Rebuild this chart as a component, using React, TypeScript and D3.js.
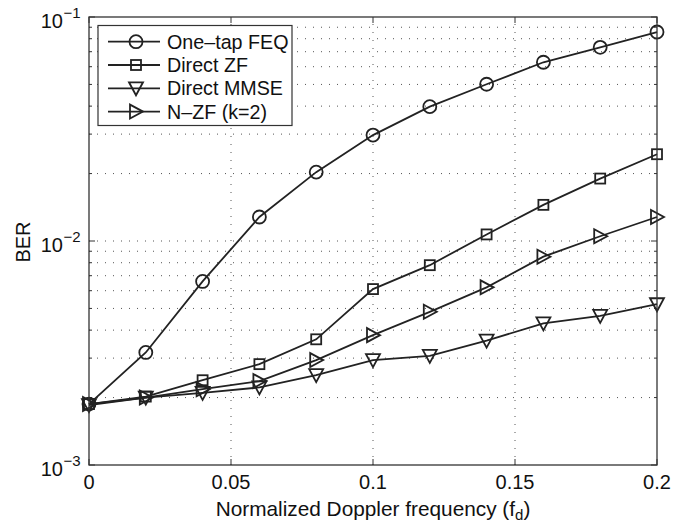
import React from 'react';
import * as d3 from 'd3';

const fd = [0, 0.02, 0.04, 0.06, 0.08, 0.1, 0.12, 0.14, 0.16, 0.18, 0.2];

const oneTapFEQ = [1.87e-3, 3.18e-3, 6.6e-3, 1.28e-2, 2.03e-2, 2.97e-2, 3.98e-2, 5.01e-2, 6.28e-2, 7.32e-2, 8.57e-2];
const directZF = [1.87e-3, 2.02e-3, 2.39e-3, 2.82e-3, 3.64e-3, 6.1e-3, 7.8e-3, 1.07e-2, 1.45e-2, 1.9e-2, 2.44e-2];
const directMMSE = [1.85e-3, 2.0e-3, 2.1e-3, 2.22e-3, 2.52e-3, 2.94e-3, 3.07e-3, 3.59e-3, 4.29e-3, 4.63e-3, 5.22e-3];
const nZF = [1.87e-3, 2.0e-3, 2.18e-3, 2.37e-3, 2.94e-3, 3.8e-3, 4.83e-3, 6.21e-3, 8.51e-3, 1.05e-2, 1.28e-2];

const seriesNames = ['One\u2013tap FEQ', 'Direct ZF', 'Direct MMSE', 'N\u2013ZF (k=2)'];
const seriesMarkers = ['circle', 'square', 'triDown', 'triRight'];
const seriesValues = [oneTapFEQ, directZF, directMMSE, nZF];

const xTicks = [0, 0.05, 0.1, 0.15, 0.2];
const xTickLabels = ['0', '0.05', '0.1', '0.15', '0.2'];
const yDecades = [1e-3, 1e-2, 1e-1];
const yExponents = ['\u22123', '\u22122', '\u22121'];

const width = 686;
const height = 524;
const margin = { left: 89, right: 29, top: 17, bottom: 59 };
const font = '"Liberation Sans", Arial, Helvetica, sans-serif';
const ink = '#222';

function Marker({ type, x, y }: { type: string; x: number; y: number }) {
	const common = { fill: 'none', stroke: ink, strokeWidth: 1.8 };
	if (type === 'circle') return <circle cx={x} cy={y} r={6.5} {...common} />;
	if (type === 'square') return <rect x={x - 5} y={y - 5} width={10} height={10} {...common} />;
	if (type === 'triDown')
		return <path d={`M${x - 7},${y - 6}L${x + 7},${y - 6}L${x},${y + 7}Z`} {...common} />;
	return <path d={`M${x - 6},${y - 7}L${x - 6},${y + 7}L${x + 7},${y}Z`} {...common} />;
}

export default function App() {
	const x = d3.scaleLinear().domain([0, 0.2]).range([margin.left, width - margin.right]);
	const y = d3.scaleLog().domain([1e-3, 1e-1]).range([height - margin.bottom, margin.top]);

	const minor: number[] = [];
	[1e-3, 1e-2].forEach(d => {
		for (let k = 2; k <= 9; k++) minor.push(d * k);
	});
	const line = d3.line<number>().x((_, i) => x(fd[i])).y(v => y(v));

	const x0 = x(0), x1 = x(0.2), y0 = y(1e-3), y1 = y(1e-1);
	const grid = { stroke: '#555', strokeWidth: 1, strokeDasharray: '1,7' };

	return (
		<svg width={width} height={height} style={{ position: 'absolute', left: 0, top: 0 }}>
			<rect width={width} height={height} fill="#fff" />
			{/* grid */}
			{xTicks.slice(1, -1).map(t => (
				<line key={`gx${t}`} x1={x(t)} x2={x(t)} y1={y0} y2={y1} {...grid} />
			))}
			{minor.concat([1e-2]).map(t => (
				<line key={`gy${t}`} x1={x0} x2={x1} y1={y(t)} y2={y(t)} {...grid} />
			))}
			{/* ticks */}
			{xTicks.map(t => (
				<g key={`tx${t}`} stroke="#333" strokeWidth={1}>
					<line x1={x(t)} x2={x(t)} y1={y0} y2={y0 - 6} />
					<line x1={x(t)} x2={x(t)} y1={y1} y2={y1 + 6} />
				</g>
			))}
			{yDecades.map(t => (
				<g key={`ty${t}`} stroke="#333" strokeWidth={1}>
					<line x1={x0} x2={x0 + 6} y1={y(t)} y2={y(t)} />
					<line x1={x1} x2={x1 - 6} y1={y(t)} y2={y(t)} />
				</g>
			))}
			{minor.map(t => (
				<g key={`tm${t}`} stroke="#333" strokeWidth={1}>
					<line x1={x0} x2={x0 + 3} y1={y(t)} y2={y(t)} />
					<line x1={x1} x2={x1 - 3} y1={y(t)} y2={y(t)} />
				</g>
			))}
			{/* series */}
			{seriesValues.map((vals, s) => (
				<g key={`s${s}`}>
					<path d={line(vals) || ''} fill="none" stroke={ink} strokeWidth={1.8} />
					{vals.map((v, i) => (
						<Marker key={i} type={seriesMarkers[s]} x={x(fd[i])} y={y(v)} />
					))}
				</g>
			))}
			{/* axes box */}
			<rect x={x0} y={y1} width={x1 - x0} height={y0 - y1} fill="none" stroke="#333" strokeWidth={1.3} />
			{/* tick labels */}
			{xTicks.map((t, i) => (
				<text key={`lx${t}`} x={x(t)} y={489} textAnchor="middle" fontFamily={font} fontSize={20} fill="#111">
					{xTickLabels[i]}
				</text>
			))}
			{yDecades.map((t, i) => (
				<text key={`ly${t}`} x={63} y={y(t) + 11} textAnchor="end" fontFamily={font} fontSize={20} fill="#111">
					10
				</text>
			))}
			{yDecades.map((t, i) => (
				<text key={`le${t}`} x={63.5} y={y(t) + 1} fontFamily={font} fontSize={15} fill="#111">
					{yExponents[i]}
				</text>
			))}
			{/* axis labels */}
			<text x={x(0.1)} y={516} textAnchor="middle" fontFamily={font} fontSize={20.8} fill="#111">
				Normalized Doppler frequency (f<tspan fontSize={15} dy={4}>d</tspan><tspan dy={-4}>)</tspan>
			</text>
			<text transform={`translate(30,${(y0 + y1) / 2 + 1}) rotate(-90)`} textAnchor="middle" fontFamily={font} fontSize={20} fill="#111">
				BER
			</text>
			{/* legend */}
			<g>
				<rect x={98} y={25.5} width={194} height={100} fill="#fff" stroke="#333" strokeWidth={1.2} />
				{seriesNames.map((name, i) => {
					const ry = 41.7 + i * 23.3;
					return (
						<g key={name}>
							<line x1={108} x2={160} y1={ry} y2={ry} stroke={ink} strokeWidth={1.8} />
							<Marker type={seriesMarkers[i]} x={136} y={ry} />
							<text x={167} y={ry + 7} fontFamily={font} fontSize={19.7} fill="#111">
								{name}
							</text>
						</g>
					);
				})}
			</g>
		</svg>
	);
}
